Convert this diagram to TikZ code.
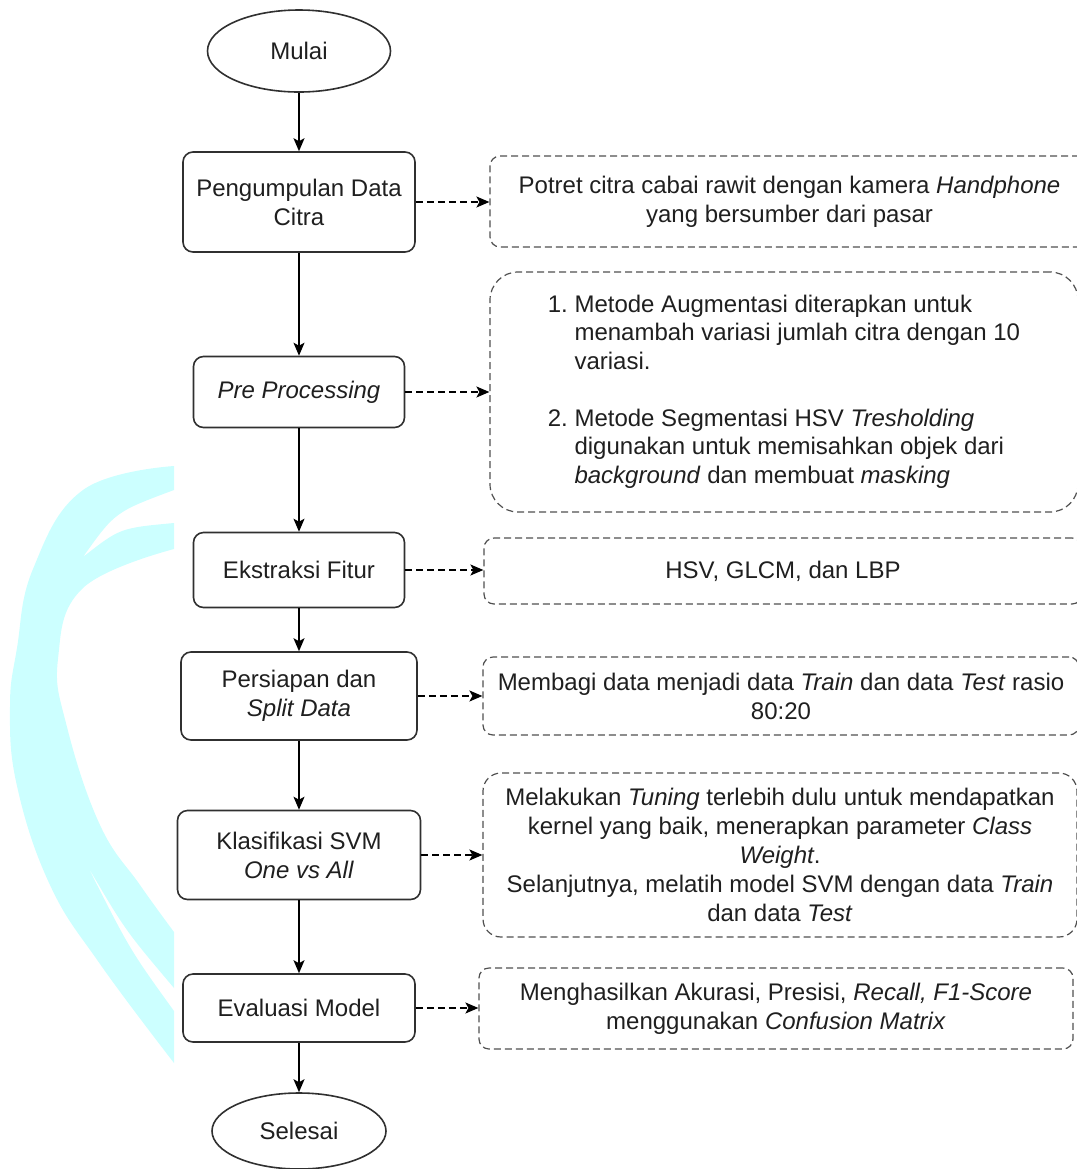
\documentclass[tikz,border=0pt]{standalone}
\usepackage{fontspec}
\setmainfont{Liberation Sans}
\usetikzlibrary{positioning,shapes.geometric,arrows.meta}
\definecolor{wmark}{HTML}{CCFFFF}
\definecolor{edge}{HTML}{303030}
\definecolor{noteedge}{HTML}{505050}
\definecolor{ink}{HTML}{1F1F1F}

\begin{document}
\begin{tikzpicture}[
        x=0.5pt, y=-0.5pt,
        every node/.style={
            text=ink,
            align=center,
            inner sep=0pt,
            font=\fontsize{12}{14.5}\selectfont
        },
        flowbox/.style={
            rectangle,
            draw=edge,
            line width=0.8pt,
            rounded corners=5pt
        },
        terminal/.style={
            ellipse,
            draw=edge,
            line width=0.8pt
        },
        note/.style={
            rectangle,
            draw=noteedge,
            line width=0.6pt,
            dash pattern=on 3.5pt off 2pt,
            rounded corners=5pt
        },
        flowarrow/.style={
            -{Stealth[length=6.5pt,width=5.5pt,inset=1.5pt]},
            line width=0.8pt,
            color=black
        },
        notearrow/.style={
            flowarrow,
            dash pattern=on 3.5pt off 2pt
        }
    ]
        \useasboundingbox (0,0) rectangle (1077,1169);

        % Watermark on the left
        \fill[wmark] plot[smooth, tension=0.7] coordinates {(174,466) (83,490) (33,569) (17,648) (10,707) (17,786) (50,885) (100,964) (174,1063)}
            -- (174,1011) .. controls (130,950) .. (87,865) .. controls (125,930) .. (174,988)
            -- (174,932) -- plot[smooth, tension=0.7] coordinates {(174,932) (140,885) (100,825) (67,727) (58,659) (83,588) (174,549)}
            -- (174,523) .. controls (120,528) .. (83,557) .. controls (115,512) .. (174,490) -- cycle;

        % Main flow
        \node[terminal, minimum width=91.5pt, minimum height=41pt] (mulai) at (299,51) {Mulai};
        \node[flowbox, minimum width=116pt, minimum height=50pt] (kumpul) at (299,202) {Pengumpulan Data\\Citra};
        \node[flowbox, minimum width=105.5pt, minimum height=35.5pt] (prepro) at (299,392) {\textit{Pre Processing}};
        \node[flowbox, minimum width=105.5pt, minimum height=37.5pt] (fitur) at (299,570) {Ekstraksi Fitur};
        \node[flowbox, minimum width=118pt, minimum height=44pt] (split) at (299,696) {Persiapan dan\\\textit{Split Data}};
        \node[flowbox, minimum width=121.5pt, minimum height=44.5pt] (svm) at (299,855) {Klasifikasi SVM\\\textit{One vs All}};
        \node[flowbox, minimum width=116pt, minimum height=34pt] (evaluasi) at (299,1008) {Evaluasi Model};
        \node[terminal, minimum width=87pt, minimum height=38pt] (selesai) at (299,1131) {Selesai};

        % Notes on the right
        \node[note, minimum width=299.5pt, minimum height=45.5pt] (potret) at (789.5,201.5)
            {Potret citra cabai rawit dengan kamera \textit{Handphone}\\yang bersumber dari pasar};
        \node[note, rounded corners=14pt, minimum width=294pt, minimum height=120pt] (metode) at (784,392)
            {\fontsize{12}{14.25}\selectfont
            \begin{tabular}{@{}l@{\ }l@{}}
                1. & Metode Augmentasi diterapkan untuk\\
                   & menambah variasi jumlah citra dengan 10\\
                   & variasi.\\
                   & \\
                2. & Metode Segmentasi HSV \textit{Tresholding}\\
                   & digunakan untuk memisahkan objek dari\\
                   & \textit{background} dan membuat \textit{masking}
            \end{tabular}};
        \node[note, minimum width=299pt, minimum height=33pt] (fiturlist) at (783,571) {HSV, GLCM, dan LBP};
        \node[note, minimum width=298pt, minimum height=39pt] (rasio) at (781,696)
            {Membagi data menjadi data \textit{Train} dan data \textit{Test} rasio\\80:20};
        \node[note, rounded corners=9pt, minimum width=297pt, minimum height=82pt] (tuning) at (780,855)
            {Melakukan \textit{Tuning} terlebih dulu untuk mendapatkan\\kernel yang baik, menerapkan parameter \textit{Class}\\\textit{Weight}.\\Selanjutnya, melatih model SVM dengan data \textit{Train}\\dan data \textit{Test}};
        \node[note, minimum width=297pt, minimum height=40.5pt] (metrik) at (776,1008.5)
            {Menghasilkan Akurasi, Presisi, \textit{Recall, F1-Score}\\menggunakan \textit{Confusion Matrix}};

        \draw[flowarrow] (mulai) -- (kumpul);
        \draw[flowarrow] (kumpul) -- (prepro);
        \draw[flowarrow] (prepro) -- (fitur);
        \draw[flowarrow] (fitur) -- (split);
        \draw[flowarrow] (split) -- (svm);
        \draw[flowarrow] (svm) -- (evaluasi);
        \draw[flowarrow] (evaluasi) -- (selesai);

        \draw[notearrow] (kumpul.east) -- (kumpul.east -| potret.west);
        \draw[notearrow] (prepro.east) -- (prepro.east -| metode.west);
        \draw[notearrow] (fitur.east) -- (fitur.east -| fiturlist.west);
        \draw[notearrow] (split.east) -- (split.east -| rasio.west);
        \draw[notearrow] (svm.east) -- (svm.east -| tuning.west);
        \draw[notearrow] (evaluasi.east) -- (evaluasi.east -| metrik.west);
    \end{tikzpicture}
\end{document}
